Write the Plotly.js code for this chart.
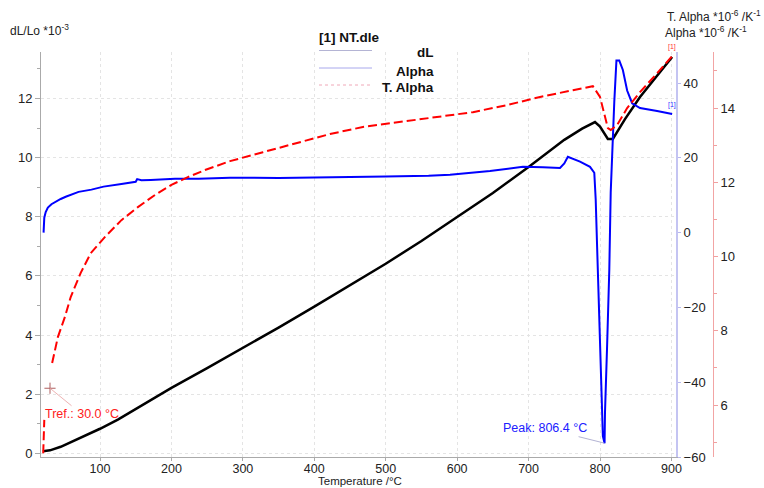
<!DOCTYPE html>
<html>
<head>
<meta charset="utf-8">
<script src="https://cdn.plot.ly/plotly-3.0.1.min.js"></script>
<style>html,body{margin:0;padding:0;background:#fff;}#chart{width:764px;height:488px;}</style>
</head>
<body>
<div id="chart"></div>
<script>
// ---- data ----
const dLTemp = [20, 30, 45, 60, 80, 100, 125, 150, 175, 200, 250, 300, 350, 400, 450, 500, 550, 600, 650, 700, 750, 775, 793, 800, 805, 811, 818, 835, 856, 880, 901];
const dLVal  = [0.07, 0.1, 0.22, 0.38, 0.6, 0.83, 1.14, 1.5, 1.85, 2.21, 2.88, 3.56, 4.25, 4.96, 5.68, 6.41, 7.18, 7.98, 8.8, 9.68, 10.6, 10.98, 11.2, 11.05, 10.85, 10.63, 10.63, 11.3, 12.05, 12.75, 13.4];

const alphaTemp = [21, 21.5, 22, 24, 27, 32, 38, 45, 52, 60, 70, 88, 105, 130, 150, 152, 158, 171, 205, 238, 282, 350, 400, 450, 500, 560, 590, 646, 692, 720, 744, 750, 755, 772, 786, 792, 794, 796, 799, 801, 804, 806.4, 807, 810, 813, 815, 817, 820, 823, 827, 832, 838, 845, 856, 880, 901];
const alphaVal  = [0.0, 2.5, 4.0, 5.5, 6.7, 7.6, 8.3, 9.0, 9.6, 10.1, 10.9, 11.5, 12.3, 13.0, 13.6, 14.3, 14.0, 14.1, 14.4, 14.4, 14.7, 14.6, 14.8, 14.8, 15.0, 15.2, 15.5, 16.5, 17.6, 17.5, 17.3, 18.5, 20.3, 19.0, 17.6, 16.0, 8.8, -4, -25, -40.5, -54.4, -56.3, -48, -30, -10, 10.7, 22, 35, 46, 46, 43.5, 38, 34.6, 33.3, 32.5, 31.7];

const tAlphaTemp = [20.5, 21.5, 22, null, 33, 41, 51, 59, 73, 87, 107, 130, 153, 177, 200, 223, 247, 282, 328, 376, 422, 468, 516, 576, 622, 670, 716, 762, 790, 800, 807, 811, 815, 824, 838, 856, 880, 901];
const tAlphaVal  = [4.7, 5.3, 5.6, null, 7.13, 7.83, 8.38, 8.91, 9.56, 10.09, 10.53, 10.98, 11.33, 11.66, 11.93, 12.14, 12.33, 12.57, 12.81, 13.06, 13.3, 13.49, 13.62, 13.78, 13.89, 14.08, 14.3, 14.48, 14.59, 14.3, 13.81, 13.46, 13.41, 13.54, 14.0, 14.43, 14.94, 15.4];

const trefPoint = {T: 30, dL: 2.2};
const peakPoint = {T: 806.4, alpha: -56.3};

const xTicks = [100, 200, 300, 400, 500, 600, 700, 800, 900];
const yTicks = [0, 2, 4, 6, 8, 10, 12];
const yMinor = [1, 3, 5, 7, 9, 11, 13];
const y2Ticks = [-60, -40, -20, 0, 20, 40];
const y3Ticks = [6, 8, 10, 12, 14];
const y3Minor = [5, 7, 9, 11, 13, 15];

// ---- chart ----
const FONT = 'Liberation Sans, Arial, sans-serif';
const W = 764, H = 488, L = 41, R = 51, T = 52, B = 31;
const pw = W - L - R, ph = H - T - B;
const px = x => (x - L) / pw;       // pixel -> paper x
const py = y => (H - B - y) / ph;   // pixel -> paper y

const traces = [
  {x: tAlphaTemp, y: tAlphaVal, yaxis: 'y3', mode: 'lines', connectgaps: false,
   line: {color: '#ff0000', width: 2, dash: '9px,4px'}, name: 'T. Alpha', hoverinfo: 'skip'},
  {x: dLTemp, y: dLVal, yaxis: 'y', mode: 'lines',
   line: {color: '#000000', width: 2.5}, name: 'dL', hoverinfo: 'skip'},
  {x: alphaTemp, y: alphaVal, yaxis: 'y2', mode: 'lines',
   line: {color: '#0000ff', width: 2}, name: 'Alpha', hoverinfo: 'skip'},
  {x: [trefPoint.T], y: [trefPoint.dL], yaxis: 'y', mode: 'markers',
   marker: {symbol: 'cross-thin', size: 8, line: {color: '#b06060', width: 1}}, hoverinfo: 'skip'}
];

const legendShapes = [
  {type: 'line', xref: 'paper', yref: 'paper', x0: px(319), x1: px(372), y0: py(50.5), y1: py(50.5), line: {color: '#b4b4d4', width: 1}},
  {type: 'line', xref: 'paper', yref: 'paper', x0: px(319), x1: px(372), y0: py(68), y1: py(68), line: {color: '#a8a8ec', width: 1}},
  {type: 'line', xref: 'paper', yref: 'paper', x0: px(319), x1: px(372), y0: py(85), y1: py(85), line: {color: '#f0a8b8', width: 1, dash: 'dot'}}
];

const ann = (text, x, y, xa, opts) => Object.assign({
  text, xref: 'paper', yref: 'paper', x: px(x), y: py(y), xanchor: xa, yanchor: 'middle',
  showarrow: false, font: {family: FONT, size: 12, color: '#222'}
}, opts || {});

const annotations = [
  ann('dL/Lo *10<sup>-3</sup>', 8, 30, 'left'),
  ann('T. Alpha *10<sup>-6</sup> /K<sup>-1</sup>', 763, 16, 'right'),
  ann('Alpha *10<sup>-6</sup> /K<sup>-1</sup>', 749, 32, 'right'),
  ann('Temperature /°C', 360, 480.5, 'center', {borderpad: 0, font: {family: FONT, size: 11.5, color: '#222'}}),
  ann('<b>[1] NT.dle</b>', 317, 37, 'left', {font: {family: FONT, size: 13.5, color: '#111'}}),
  ann('<b>dL</b>', 436, 53, 'right', {font: {family: FONT, size: 13.5, color: '#111'}}),
  ann('<b>Alpha</b>', 436, 71, 'right', {font: {family: FONT, size: 13.5, color: '#111'}}),
  ann('<b>T. Alpha</b>', 436, 87, 'right', {font: {family: FONT, size: 13.5, color: '#111'}}),
  {text: 'Tref.: 30.0 °C', xref: 'x', yref: 'y', x: trefPoint.T, y: trefPoint.dL,
   ax: 32, ay: 26, showarrow: true, arrowhead: 0, arrowwidth: 0.8, arrowcolor: '#e8a0a0',
   font: {family: FONT, size: 12.5, color: '#ff2020'}},
  {text: 'Peak: 806.4 °C', xref: 'x', yref: 'y2', x: peakPoint.T, y: peakPoint.alpha,
   ax: -60, ay: -15, showarrow: true, arrowhead: 0, arrowwidth: 0.8, arrowcolor: '#a0a0c8',
   font: {family: FONT, size: 12.5, color: '#2020ff'}},
  {text: '[1]', xref: 'x', yref: 'y3', x: tAlphaTemp[tAlphaTemp.length - 1], y: tAlphaVal[tAlphaVal.length - 1],
   yshift: 9, showarrow: false, font: {family: FONT, size: 7, color: '#ff3030'}},
  {text: '[1]', xref: 'x', yref: 'y2', x: alphaTemp[alphaTemp.length - 1], y: alphaVal[alphaVal.length - 1],
   yshift: 9, showarrow: false, font: {family: FONT, size: 7, color: '#3030ff'}}
];

const tickFont = {family: FONT, size: 13, color: '#222'};

const layout = {
  width: W, height: H,
  margin: {l: L, r: R, t: T, b: B, pad: 0},
  paper_bgcolor: '#fff', plot_bgcolor: '#fff',
  showlegend: false,
  font: {family: FONT},
  xaxis: {
    domain: [0, (676 - L) / pw], range: [17.4, 906.4],
    tickmode: 'array', tickvals: xTicks, ticks: 'outside', ticklen: 3, tickcolor: '#aaa',
    ticklabelstandoff: -3,
    showline: true, linecolor: '#aaa', linewidth: 1, mirror: false,
    showgrid: true, gridcolor: '#e4e4e4', griddash: 'dot', zeroline: false,
    tickfont: {family: FONT, size: 12.5, color: '#222'}
  },
  yaxis: {
    range: [-0.125, 13.57],
    tickmode: 'array', tickvals: yTicks, ticks: 'outside', ticklen: 5, tickcolor: '#aaa',
    minor: {tickmode: 'array', tickvals: yMinor, ticks: 'outside', ticklen: 3, tickcolor: '#aaa', showgrid: false},
    showline: true, linecolor: '#aaa', linewidth: 1,
    showgrid: true, gridcolor: '#e4e4e4', griddash: 'dot', zeroline: false,
    tickfont: tickFont
  },
  yaxis2: {
    overlaying: 'y', side: 'right', anchor: 'x',
    range: [-60, 48.3],
    tickmode: 'array', tickvals: y2Ticks, ticks: 'outside', ticklen: 3, tickcolor: '#b8b8ee',
    showline: true, linecolor: '#c4c4f2', linewidth: 2,
    showgrid: false, zeroline: false, tickfont: tickFont
  },
  yaxis3: {
    overlaying: 'y', side: 'right', anchor: 'free', position: 1,
    range: [4.6, 15.51],
    tickmode: 'array', tickvals: y3Ticks, ticks: 'outside', ticklen: 4, tickcolor: '#f0a0a0',
    minor: {tickmode: 'array', tickvals: y3Minor, ticks: 'outside', ticklen: 3, tickcolor: '#f0a0a0', showgrid: false},
    showline: true, linecolor: '#f2a4a4', linewidth: 1,
    showgrid: false, zeroline: false, tickfont: tickFont
  },
  shapes: legendShapes,
  annotations: annotations
};

Plotly.newPlot('chart', traces, layout, {staticPlot: true, displayModeBar: false});
</script>
</body>
</html>
